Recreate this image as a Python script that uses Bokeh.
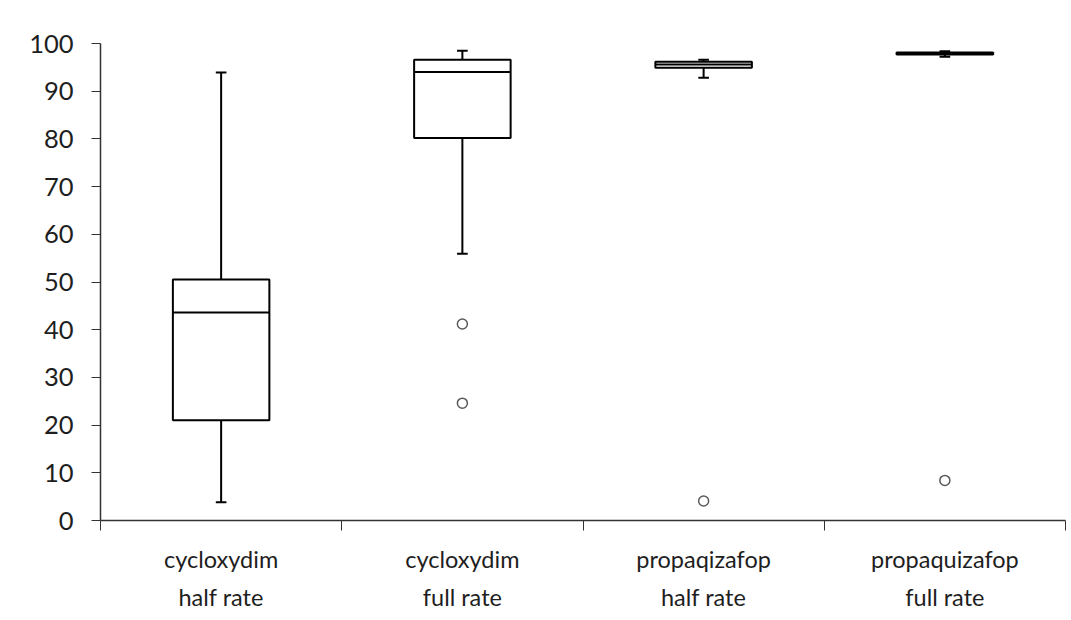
from bokeh.plotting import figure
from bokeh.models import Range1d, FixedTicker, BoxAnnotation
from bokeh.embed import file_html
from bokeh.resources import INLINE

# Treatment groups and their box-plot statistics (% control)
categories = [
    "cycloxydim\nhalf rate",
    "cycloxydim\nfull rate",
    "propaqizafop\nhalf rate",
    "propaquizafop\nfull rate",
]
whisker_low = [3.8, 55.9, 92.8, 97.2]
q1 = [21.0, 80.2, 94.9, 97.7]
median = [43.6, 94.0, 95.6, 97.9]
q3 = [50.5, 96.6, 96.2, 98.1]
whisker_high = [93.9, 98.5, 96.6, 98.4]

# Outliers: group index and value
outlier_group = [1, 1, 2, 3]
outlier_value = [41.2, 24.6, 4.1, 8.4]

y_ticks = list(range(0, 101, 10))

FONT = "Lato"
TEXT = "#1e1e1e"
BOX_HALF = 0.2
CAP_HALF = 0.022
W, H = 1071, 620

centers = [i + 0.5 for i in range(len(categories))]
separators = list(range(len(categories) + 1))

p = figure(
    width=W, height=H,
    x_range=Range1d(0, len(categories)), y_range=Range1d(0, 100),
    output_backend="svg", toolbar_location=None,
    min_border_left=100, min_border_right=6,
    min_border_top=43, min_border_bottom=100,
)
p.border_fill_color = "white"
p.background_fill_color = "white"
p.xgrid.visible = False
p.ygrid.visible = False
p.outline_line_color = None

# black rules along the top and left edges of the canvas
try:
    for l, r, t, b in [(9, W, 8, 11), (9, 12, 8, H)]:
        p.add_layout(BoxAnnotation(
            left=l, right=r, top=t, bottom=b,
            left_units="canvas", right_units="canvas",
            top_units="canvas", bottom_units="canvas",
            fill_color="black", fill_alpha=1.0, line_color=None,
        ))
except Exception:
    pass

# Whiskers
p.segment(x0=centers, x1=centers, y0=q3, y1=whisker_high, line_color="black", line_width=2)
p.segment(x0=centers, x1=centers, y0=q1, y1=whisker_low, line_color="black", line_width=2)
# Whisker caps
cl = [c - CAP_HALF for c in centers]
cr = [c + CAP_HALF for c in centers]
p.segment(x0=cl, x1=cr, y0=whisker_high, y1=whisker_high, line_color="black", line_width=2)
p.segment(x0=cl, x1=cr, y0=whisker_low, y1=whisker_low, line_color="black", line_width=2)

# Boxes and medians
bl = [c - BOX_HALF for c in centers]
br = [c + BOX_HALF for c in centers]
p.quad(left=bl, right=br, bottom=q1, top=q3, fill_color="white",
       line_color="black", line_width=2)
p.segment(x0=bl, x1=br, y0=median, y1=median, line_color="black", line_width=2)

# Outliers
p.scatter(x=[centers[g] for g in outlier_group], y=outlier_value, marker="circle",
          size=10, fill_color="white", line_color="#5a5a5a", line_width=1.5)

# X axis: labels under each box, tick marks between groups
xa = p.xaxis[0]
xa.ticker = FixedTicker(ticks=centers, minor_ticks=separators)
xa.major_label_overrides = {c: lab for c, lab in zip(centers, categories)}
xa.major_tick_line_color = None
xa.minor_tick_line_color = "#333333"
xa.minor_tick_out = 10
xa.minor_tick_in = 0
xa.axis_line_color = "#333333"
xa.axis_line_width = 1.5
xa.major_label_standoff = 14
xa.major_label_text_font = FONT
xa.major_label_text_font_size = "23.5px"
xa.major_label_text_color = TEXT
xa.major_label_text_line_height = 1.38

# Y axis
ya = p.yaxis[0]
ya.ticker = FixedTicker(ticks=y_ticks)
ya.minor_tick_line_color = None
ya.major_tick_out = 9
ya.major_tick_in = 0
ya.major_tick_line_color = "#333333"
ya.axis_line_color = "#333333"
ya.axis_line_width = 1.5
ya.major_label_standoff = 18
ya.major_label_text_font = FONT
ya.major_label_text_font_size = "25.5px"
ya.major_label_text_color = TEXT

open("out.html", "w").write(file_html(p, INLINE))
